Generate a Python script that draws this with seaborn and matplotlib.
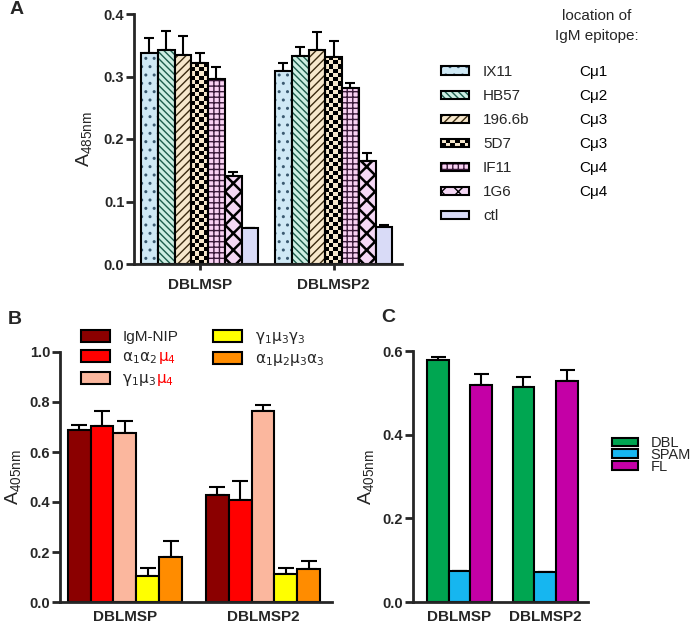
import numpy as np
import pandas as pd
import matplotlib
matplotlib.use("Agg")
import matplotlib.pyplot as plt
import seaborn as sns
from matplotlib.patches import Rectangle
from matplotlib.colors import to_rgba, ListedColormap
from matplotlib.container import BarContainer
from matplotlib.legend_handler import HandlerBase
from matplotlib.text import Annotation

# ---- data ----
groups = ["DBLMSP", "DBLMSP2"]

a_series = ["IX11", "HB57", "196.6b", "5D7", "IF11", "1G6", "ctl"]
a_epitope = ["Cμ1", "Cμ2", "Cμ3", "Cμ3", "Cμ4", "Cμ4"]
a_mean_dblmsp = [0.337, 0.342, 0.334, 0.321, 0.296, 0.141, 0.057]
a_err_dblmsp = [0.024, 0.031, 0.031, 0.016, 0.020, 0.007, 0.001]
a_mean_dblmsp2 = [0.309, 0.333, 0.342, 0.332, 0.282, 0.165, 0.060]
a_err_dblmsp2 = [0.013, 0.014, 0.030, 0.024, 0.008, 0.012, 0.002]

b_series = ["IgM-NIP", "a1a2m4", "g1m3m4", "g1m3g3", "a1m2m3a3"]
b_mean_dblmsp = [0.689, 0.705, 0.676, 0.105, 0.179]
b_err_dblmsp = [0.020, 0.060, 0.049, 0.031, 0.066]
b_mean_dblmsp2 = [0.429, 0.407, 0.765, 0.112, 0.132]
b_err_dblmsp2 = [0.031, 0.076, 0.024, 0.024, 0.033]

c_series = ["DBL", "SPAM", "FL"]
c_mean_dblmsp = [0.580, 0.075, 0.520]
c_err_dblmsp = [0.006, 0.0, 0.027]
c_mean_dblmsp2 = [0.515, 0.072, 0.528]
c_err_dblmsp2 = [0.023, 0.0, 0.027]

# ---- style ----
sns.set_style("ticks")
plt.rcParams["font.family"] = ["Liberation Sans", "DejaVu Sans"]
plt.rcParams["hatch.linewidth"] = 1.0
plt.rcParams["axes.linewidth"] = 2.0

a_face = ["#cfe9f5", "#cdeee2", "#f7e8cc", "#f7e8cc", "#f9d2f3", "#f5d8f5", "#d9dbf7"]
a_hatch = ["..", "\\\\\\\\\\", "////", None, "+++", "xx", None]
a_hcol = ["#3a5a70", "#1d5c4c", "#3a2a10", "black", "#3a1a3a", "black", "black"]
b_colors = ["#8b0000", "#ff0000", "#fbb79e", "#ffff00", "#ff8c00"]
c_colors = ["#00a651", "#16b6f0", "#c400a6"]

fig = plt.figure(figsize=(7, 6.25), dpi=100)
ax_a = fig.add_axes([134 / 700, 1 - 264 / 625, 268 / 700, 250 / 625])
ax_b = fig.add_axes([60 / 700, 1 - 602 / 625, 272 / 700, 250 / 625])
ax_c = fig.add_axes([413 / 700, 1 - 602 / 625, 175 / 700, 250.6 / 625])


def long_df(series, m1, m2):
    return pd.DataFrame({
        "group": [groups[0]] * len(series) + [groups[1]] * len(series),
        "series": list(series) * 2,
        "value": list(m1) + list(m2),
    })


def draw_panel(ax, series, m1, e1, m2, e2, colors, width, capsize):
    df = long_df(series, m1, m2)
    sns.barplot(data=df, x="group", y="value", hue="series", hue_order=series,
                order=groups, palette=dict(zip(series, colors)), width=width,
                saturation=1, errorbar=None, edgecolor="black", linewidth=1.5,
                legend=False, ax=ax, zorder=2)
    bars = [c for c in ax.containers if isinstance(c, BarContainer)]
    errs = np.array([e1, e2]).T
    for cont, err in zip(bars, errs):
        xs = [p.get_x() + p.get_width() / 2 for p in cont]
        ys = [p.get_height() for p in cont]
        ax.errorbar(xs, ys, yerr=[np.zeros(len(err)), err], fmt="none",
                    ecolor="black", elinewidth=1.5, capsize=capsize,
                    capthick=1.5, zorder=1.5)
    sns.despine(ax=ax)
    ax.set_xlabel("")
    ax.tick_params(axis="y", width=2, length=6, pad=1, labelsize=10.5)
    ax.tick_params(axis="x", labelsize=11, pad=6)
    for t in ax.get_xticklabels():
        t.set_fontweight("bold")
    return bars


def yticks(ax, vals):
    ax.set_yticks(vals)
    ax.set_yticklabels([f"{v:.1f}" for v in vals], fontweight="bold")


def add_after(text_artist, s, dx, color, size):
    an = Annotation(s, xy=(0, 0.5), xycoords=text_artist, xytext=(dx, 0),
                    textcoords="offset pixels", va="center", ha="left",
                    color=color, fontsize=size, zorder=10, annotation_clip=False)
    fig.add_artist(an)
    return an


# ---- panel A ----
bars_a = draw_panel(ax_a, a_series, a_mean_dblmsp, a_err_dblmsp, a_mean_dblmsp2,
                    a_err_dblmsp2, a_face, 0.875, 3.6)
ax_a.set_xlim(-0.49, 1.51)
ax_a.set_ylim(0, 0.4)
yticks(ax_a, [0, 0.1, 0.2, 0.3, 0.4])
ax_a.tick_params(axis="x", width=2, length=4)
ax_a.set_ylabel("A$_{\\mathregular{485nm}}$", fontsize=14, labelpad=6)

for i, cont in enumerate(bars_a):
    for p in cont:
        if a_hatch[i]:
            p.set_hatch(a_hatch[i])
            p._hatch_color = to_rgba(a_hcol[i])
            if i == 5 and hasattr(p, "set_hatch_linewidth"):
                p.set_hatch_linewidth(1.8)

# checkerboard for 5D7, clipped to each bar
for p in bars_a[3]:
    x0, w, h = p.get_x(), p.get_width(), p.get_height()
    h_px = ax_a.transData.transform((0, h))[1] - ax_a.transData.transform((0, 0))[1]
    nr = max(1, int(round(h_px / 4.2)))
    board = np.add.outer(np.arange(nr), np.arange(4)) % 2
    img = ax_a.imshow(board, cmap=ListedColormap(["#f7e8cc", "black"]),
                      extent=[x0, x0 + w, 0, h], aspect="auto",
                      interpolation="nearest", zorder=1.8)
    img.set_clip_path(p)
    p.set_facecolor("none")
ax_a.set_xlim(-0.49, 1.51)
ax_a.set_ylim(0, 0.4)


class CheckerHandler(HandlerBase):
    def create_artists(self, legend, orig_handle, xdescent, ydescent, width,
                       height, fontsize, trans):
        arts = [Rectangle((-xdescent, -ydescent), width, height,
                          facecolor="#f7e8cc", edgecolor="none", transform=trans)]
        nc, nr = 6, 2
        for r in range(nr):
            for c in range(nc):
                if (r + c) % 2 == 0:
                    arts.append(Rectangle((-xdescent + c * width / nc, -ydescent + r * height / nr),
                                          width / nc, height / nr, facecolor="black",
                                          edgecolor="none", transform=trans))
        arts.append(Rectangle((-xdescent, -ydescent), width, height, fill=False,
                              edgecolor="black", linewidth=1.5, transform=trans))
        return arts


checker_key = Rectangle((0, 0), 1, 1)
a_handles = [checker_key if i == 3 else cont[0] for i, cont in enumerate(bars_a)]
leg_a = fig.legend(a_handles, a_series, loc="upper left",
                   bbox_to_anchor=(441 / 700, 1 - 65 / 625),
                   frameon=False, fontsize=11, handlelength=1.85, handleheight=0.45,
                   handletextpad=0.9, labelspacing=0.66,
                   borderpad=0, borderaxespad=0,
                   handler_map={checker_key: CheckerHandler()})
for t, s in zip(leg_a.get_texts(), a_epitope):
    add_after(t, s, 96, "black", 11)
fig.text(597 / 700, 1 - 16 / 625, "location of", ha="center", va="center", fontsize=11)
fig.text(597 / 700, 1 - 36 / 625, "IgM epitope:", ha="center", va="center", fontsize=11)

# ---- panel B ----
bars_b = draw_panel(ax_b, b_series, b_mean_dblmsp, b_err_dblmsp, b_mean_dblmsp2,
                    b_err_dblmsp2, b_colors, 0.83, 6)
ax_b.set_xlim(-0.47, 1.5)
ax_b.set_ylim(0, 1.0)
yticks(ax_b, [0, 0.2, 0.4, 0.6, 0.8, 1.0])
ax_b.tick_params(axis="x", length=0)
ax_b.set_ylabel("A$_{\\mathregular{405nm}}$", fontsize=14, labelpad=4)
b_labels = ["IgM-NIP", "$\\mathrm{\\alpha}_1\\mathrm{\\alpha}_2$",
            "$\\mathrm{\\gamma}_1\\mathrm{\\mu}_3$",
            "$\\mathrm{\\gamma}_1\\mathrm{\\mu}_3\\mathrm{\\gamma}_3$",
            "$\\mathrm{\\alpha}_1\\mathrm{\\mu}_2\\mathrm{\\mu}_3\\mathrm{\\alpha}_3$"]
leg_b = fig.legend([c[0] for c in bars_b], b_labels, ncol=2,
                   loc="upper left", bbox_to_anchor=(81 / 700, 1 - 330 / 625),
                   frameon=False, fontsize=11, handlelength=1.9, handleheight=0.8,
                   handletextpad=0.8, labelspacing=0.4, columnspacing=2.3,
                   borderpad=0, borderaxespad=0)
texts_b = leg_b.get_texts()
for k in (1, 2):
    an = Annotation("$\\mathrm{\\mu}_4$", xy=(1, 0), xycoords=texts_b[k],
                    va="bottom", ha="left", color="#ff0000", fontsize=11,
                    zorder=10, annotation_clip=False)
    fig.add_artist(an)

# ---- panel C ----
bars_c = draw_panel(ax_c, c_series, c_mean_dblmsp, c_err_dblmsp, c_mean_dblmsp2,
                    c_err_dblmsp2, c_colors, 0.756, 5.4)
ax_c.set_xlim(-0.54, 1.5)
ax_c.set_ylim(0, 0.6)
yticks(ax_c, [0, 0.2, 0.4, 0.6])
ax_c.tick_params(axis="x", length=0)
ax_c.set_ylabel("A$_{\\mathregular{405nm}}$", fontsize=14, labelpad=4)
leg_c = fig.legend([c[0] for c in bars_c], c_series, loc="upper left",
                   bbox_to_anchor=(612 / 700, 1 - 436 / 625), frameon=False,
                   fontsize=10.5, handlelength=1.75, handleheight=0.5,
                   handletextpad=0.9, labelspacing=-0.15, borderpad=0,
                   borderaxespad=0)

# panel letters
fig.text(10 / 700, 1 - 9 / 625, "A", fontsize=14, fontweight="bold", va="center")
fig.text(8 / 700, 1 - 320 / 625, "B", fontsize=14, fontweight="bold", va="center")
fig.text(381 / 700, 1 - 318 / 625, "C", fontsize=14, fontweight="bold", va="center")

fig.savefig("out.png", dpi=100)
